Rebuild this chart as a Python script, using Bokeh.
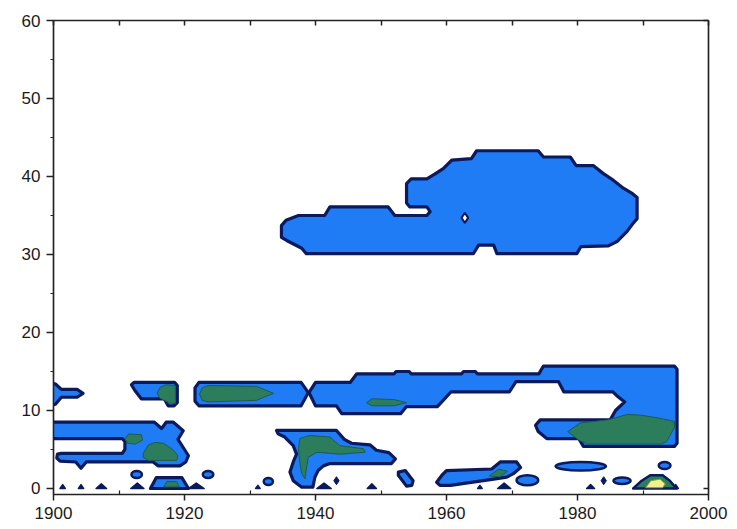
from bokeh.plotting import figure
from bokeh.models import FixedTicker, LinearAxis, Range1d
from bokeh.embed import file_html
from bokeh.resources import INLINE

# ---------------- data ----------------
X_TICKS = [1900, 1920, 1940, 1960, 1980, 2000]
X_MINOR = [1910, 1930, 1950, 1970, 1990]
Y_TICKS = [0, 10, 20, 30, 40, 50, 60]
Y_MINOR = [5, 15, 25, 35, 45, 55]

# lowest contour level (blue) outlines: year, value
upper_x = [1934.8, 1934.8, 1935.5, 1937.4, 1941.4, 1942.2, 1951.1, 1952.1, 1957.0, 1957.5, 1957.0, 1954.4,
           1953.9, 1953.9, 1954.6, 1957.0, 1958.2, 1959.5, 1960.8, 1963.8, 1964.6, 1974.0, 1974.8, 1978.9,
           1979.8, 1982.4, 1983.9, 1985.5, 1987.0, 1988.4, 1989.1, 1989.1, 1988.4, 1987.6, 1986.1, 1984.7,
           1980.5, 1979.9, 1967.7, 1967.2, 1964.9, 1964.1, 1938.6, 1937.9, 1935.6]
upper_y = [32.2, 33.7, 34.4, 35.0, 35.0, 36.1, 36.1, 35.0, 35.0, 35.5, 36.1, 36.1,
           36.6, 39.1, 39.7, 39.7, 40.3, 41.0, 42.1, 42.3, 43.3, 43.3, 42.5, 42.5,
           41.4, 41.4, 40.4, 39.5, 38.5, 37.8, 37.3, 34.6, 33.9, 33.0, 31.7, 31.1,
           31.0, 30.1, 30.1, 31.2, 31.2, 30.1, 30.1, 30.8, 31.8]

band_right_x = [1939.0, 1940.0, 1945.3, 1946.3, 1952.0, 1952.3, 1954.3, 1954.6, 1962.3, 1962.6, 1964.4,
                1964.7, 1974.1, 1974.8, 1994.8, 1995.2, 1995.2, 1994.8, 1980.9, 1980.2, 1975.3, 1974.0,
                1973.6, 1974.3, 1985.0, 1985.8, 1987.2, 1986.0, 1985.4, 1977.9, 1977.1, 1970.6, 1969.6,
                1960.7, 1959.7, 1958.6, 1953.9, 1953.0, 1944.0, 1943.2, 1940.0]
band_right_y = [12.3, 13.6, 13.6, 14.7, 14.7, 15.0, 15.0, 14.7, 14.7, 15.0, 15.0,
                14.7, 14.7, 15.7, 15.7, 15.3, 5.8, 5.4, 5.4, 6.4, 6.4, 7.3,
                8.1, 8.8, 8.8, 10.0, 11.1, 11.9, 12.4, 12.4, 13.7, 13.7, 12.4,
                12.4, 11.5, 10.5, 10.5, 9.6, 9.6, 10.6, 10.6]

band_left_x = [1921.6, 1921.6, 1922.2, 1937.8, 1938.9, 1937.8, 1922.2]
band_left_y = [11.2, 12.9, 13.6, 13.6, 12.3, 10.6, 10.6]

band_b_x = [1911.9, 1912.3, 1918.5, 1918.9, 1918.9, 1918.4, 1917.5, 1916.9, 1913.4, 1912.4]
band_b_y = [13.3, 13.6, 13.6, 13.2, 11.0, 10.6, 10.6, 11.5, 11.5, 12.6]

band_c_x = [1899.0, 1900.3, 1901.2, 1903.6, 1904.5, 1903.6, 1901.2, 1900.3, 1899.0]
band_c_y = [13.7, 13.4, 12.7, 12.7, 12.2, 11.7, 11.7, 10.8, 10.5]

low_left_x = [1899.0, 1915.4, 1916.5, 1917.2, 1918.3, 1919.8, 1919.0, 1920.0, 1920.6, 1920.2, 1919.3,
              1916.0, 1915.2, 1905.0, 1904.2, 1903.4, 1901.0, 1900.5, 1900.6, 1901.2, 1910.5, 1910.9,
              1910.9, 1910.5, 1899.0]
low_left_y = [8.5, 8.5, 7.7, 8.5, 8.5, 7.4, 6.3, 5.0, 4.2, 3.4, 2.9,
              2.9, 3.4, 3.4, 2.6, 3.4, 3.5, 3.9, 4.4, 4.5, 4.5, 5.0,
              6.0, 6.4, 6.4]

mid_x = [1934.05, 1943.2, 1944.4, 1945.5, 1948.3, 1949.3, 1951.2, 1952.2, 1951.6, 1942.2, 1941.2, 1940.4,
         1939.9, 1939.6, 1937.9, 1936.6, 1936.1, 1936.6, 1937.1, 1936.6, 1935.3, 1934.3]
mid_y = [7.44, 7.44, 6.3, 5.8, 5.6, 4.9, 4.6, 3.8, 3.2, 3.2, 2.9, 2.3,
         1.45, 0.17, 0.17, 1.0, 2.1, 3.4, 4.4, 5.5, 6.6, 7.0]

diam_x = [1952.65, 1953.7, 1954.9, 1954.7, 1953.9, 1952.65]
diam_y = [2.1, 2.3, 1.0, 0.4, 0.3, 1.7]

low_right_x = [1958.5, 1959.3, 1960.0, 1966.9, 1968.2, 1970.7, 1971.3, 1970.2, 1969.2, 1967.2, 1960.6, 1959.0]
low_right_y = [0.8, 1.7, 2.3, 2.5, 3.4, 3.4, 2.7, 1.9, 1.45, 1.2, 0.4, 0.4]

small_bar_x = [1914.8, 1915.7, 1919.6, 1920.6]
small_bar_y = [0.0, 1.4, 1.4, 0.0]

# small closed blue contours (centre, width, height)
ell_x = [1912.7, 1923.6, 1932.8, 1972.35, 1980.5, 1986.8, 1993.3]
ell_y = [1.8, 1.8, 0.9, 1.05, 2.85, 1.0, 2.95]
ell_w = [1.6, 1.6, 1.4, 3.3, 7.7, 2.6, 1.8]
ell_h = [0.9, 0.9, 0.9, 1.3, 1.1, 0.85, 0.9]

# tiny dark contour fragments on the baseline
hump_x = [1901.4, 1904.2, 1907.3, 1912.8, 1921.8, 1931.2, 1941.3, 1948.6, 1965.1, 1968.8, 1982.0, 1995.0]
hump_w = [0.8, 0.8, 1.6, 2.0, 2.4, 0.7, 2.2, 1.4, 0.7, 2.0, 1.2, 0.8]
hump_h = [0.5, 0.5, 0.6, 0.7, 0.7, 0.4, 0.7, 0.6, 0.4, 0.7, 0.5, 0.5]

dot_x = [1943.2, 1984.0]
dot_y = [1.0, 1.0]

hole_x = [1962.8]
hole_y = [34.7]

# second contour level (green)
g1_x = [1922.3, 1922.7, 1923.6, 1931.0, 1933.6, 1931.0, 1923.6, 1922.7]
g1_y = [12.1, 12.9, 13.2, 13.1, 12.2, 11.3, 11.1, 11.3]
g2_x = [1947.8, 1948.6, 1952.0, 1953.9, 1952.0, 1948.6]
g2_y = [11.0, 11.5, 11.4, 11.0, 10.6, 10.6]
g3_x = [1915.8, 1916.3, 1917.2, 1918.6, 1918.6, 1917.6, 1916.2]
g3_y = [12.2, 13.0, 13.3, 13.2, 10.9, 11.0, 11.6]
g4_x = [1978.5, 1980.4, 1984.7, 1987.6, 1989.7, 1992.6, 1994.8, 1994.8, 1993.6, 1992.7, 1981.5, 1980.2]
g4_y = [7.3, 8.4, 8.8, 9.5, 9.4, 9.0, 8.6, 7.8, 6.0, 5.7, 5.7, 6.2]
g5_x = [1910.9, 1911.5, 1913.4, 1913.6, 1912.5, 1911.3]
g5_y = [6.4, 7.0, 6.9, 6.2, 5.7, 5.8]
g6_x = [1913.7, 1914.5, 1915.5, 1916.8, 1918.2, 1919.0, 1918.8, 1914.5, 1913.7]
g6_y = [4.5, 5.6, 5.9, 5.8, 5.0, 4.2, 3.6, 3.6, 4.0]
g7_x = [1937.6, 1939.1, 1942.2, 1943.7, 1947.3, 1947.6, 1943.7, 1940.2, 1938.9, 1938.6, 1938.4, 1937.9,
        1937.6, 1937.4]
g7_y = [6.4, 6.8, 6.6, 5.5, 5.1, 4.65, 4.4, 4.65, 4.0, 2.5, 1.25, 1.9, 3.4, 5.1]
g8_x = [1916.8, 1917.3, 1918.8, 1919.2]
g8_y = [0.2, 0.9, 0.9, 0.2]
g9_x = [1966.5, 1968.0, 1969.3, 1968.2]
g9_y = [1.6, 2.5, 2.2, 1.5]
g10_x = [1988.5, 1989.8, 1991.1, 1993.0, 1994.1, 1994.8, 1995.2]
g10_y = [0.0, 1.0, 1.7, 1.7, 1.0, 0.3, 0.0]

# third contour level (yellow)
y1_x = [1990.4, 1991.2, 1992.6, 1993.4, 1993.0]
y1_y = [0.1, 1.0, 1.2, 0.6, 0.1]

# ---------------- styling ----------------
BLUE = "#1f7cf4"
NAVY = "#0b1a5c"
GREEN = "#2b7d5c"
YELLOW = "#f3f08c"
FONT = "Liberation Sans"

p = figure(width=737, height=529, output_backend="svg", toolbar_location=None,
           x_range=Range1d(1900, 2000), y_range=Range1d(-0.77, 60),
           min_border_left=53, min_border_right=29, min_border_top=20, min_border_bottom=35,
           x_axis_location=None, y_axis_location=None)
p.background_fill_color = "white"
p.border_fill_color = "white"
p.outline_line_color = "#222222"
p.outline_line_width = 1.2
p.xgrid.visible = False
p.ygrid.visible = False

blue_xs = [upper_x, band_right_x, band_left_x, band_b_x, band_c_x, low_left_x, mid_x, diam_x,
           low_right_x, small_bar_x]
blue_ys = [upper_y, band_right_y, band_left_y, band_b_y, band_c_y, low_left_y, mid_y, diam_y,
           low_right_y, small_bar_y]
p.patches(xs=blue_xs, ys=blue_ys, fill_color=BLUE, line_color=NAVY, line_width=3.2, line_join="round")
p.ellipse(x=ell_x, y=ell_y, width=ell_w, height=ell_h, fill_color=BLUE, line_color=NAVY, line_width=2.5)

hump_xs = [[x - w / 2, x, x + w / 2] for x, w in zip(hump_x, hump_w)]
hump_ys = [[0, h, 0] for h in hump_h]
p.patches(xs=hump_xs, ys=hump_ys, fill_color=NAVY, line_color=NAVY, line_width=1.5, line_join="round")
p.scatter(x=dot_x, y=dot_y, marker="diamond", size=8, fill_color=NAVY, line_color=NAVY)
p.scatter(x=hole_x, y=hole_y, marker="diamond", size=10, fill_color="white", line_color=NAVY, line_width=2)

green_xs = [g1_x, g2_x, g3_x, g4_x, g5_x, g6_x, g7_x, g8_x, g9_x]
green_ys = [g1_y, g2_y, g3_y, g4_y, g5_y, g6_y, g7_y, g8_y, g9_y]
p.patches(xs=green_xs, ys=green_ys, fill_color=GREEN, line_color="#1d5a52", line_width=1, line_join="round")
p.patches(xs=[g10_x], ys=[g10_y], fill_color=GREEN, line_color=NAVY, line_width=2.5, line_join="round")
p.patches(xs=[y1_x], ys=[y1_y], fill_color=YELLOW, line_color="#8a9a40", line_width=1, line_join="round")

# axes
xb = LinearAxis(ticker=FixedTicker(ticks=X_TICKS, minor_ticks=X_MINOR))
xb.major_tick_out = 6
xb.major_tick_in = 0
xb.minor_tick_in = 4
xb.minor_tick_out = 0
xb.major_label_standoff = 6
p.add_layout(xb, "below")

yl = LinearAxis(ticker=FixedTicker(ticks=Y_TICKS, minor_ticks=Y_MINOR))
yl.major_tick_out = 7
yl.major_tick_in = 0
yl.minor_tick_in = 0
yl.minor_tick_out = 3
yl.major_label_standoff = 6
p.add_layout(yl, "left")

xt = LinearAxis(ticker=FixedTicker(ticks=X_TICKS + X_MINOR, minor_ticks=[]))
xt.major_tick_out = 0
xt.major_tick_in = 5
xt.major_label_text_font_size = "0px"
xt.major_label_text_color = None
xt.major_label_standoff = 0
p.add_layout(xt, "above")

yr = LinearAxis(ticker=FixedTicker(ticks=[0, 60], minor_ticks=[]))
yr.major_tick_out = 0
yr.major_tick_in = 5
yr.major_label_text_font_size = "0px"
yr.major_label_text_color = None
yr.major_label_standoff = 0
p.add_layout(yr, "right")

for ax in (xb, yl):
    ax.major_label_text_font = FONT
    ax.major_label_text_font_size = "17px"
    ax.major_label_text_color = "#1a1a1a"
for ax in (xb, yl, xt, yr):
    ax.axis_line_color = "#222222"
    ax.axis_line_width = 1.5
    ax.major_tick_line_color = "#222222"
    ax.major_tick_line_width = 1.5
    ax.minor_tick_line_color = "#222222"
    ax.minor_tick_line_width = 1.2

open("out.html", "w").write(file_html(p, INLINE))
